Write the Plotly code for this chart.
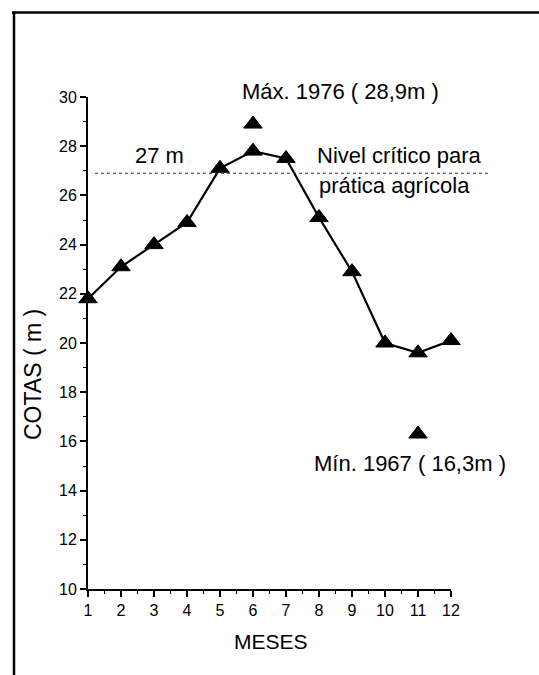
import plotly.graph_objects as go

months = [1, 2, 3, 4, 5, 6, 7, 8, 9, 10, 11, 12]
cotas = [21.8, 23.1, 24.0, 24.9, 27.1, 27.8, 27.5, 25.1, 22.9, 20.0, 19.6, 20.1]
extreme_months = [6, 11]
extreme_values = [28.9, 16.3]
critical_level = 26.9
x_ticks = months
y_ticks = [10, 12, 14, 16, 18, 20, 22, 24, 26, 28, 30]

FONT = "Liberation Sans, Arial, sans-serif"

# pixel -> paper helpers (plot area: x 88..451, y 97..589)
L, R, T, B = 88, 451, 97, 589
def px(x):
    return (x - L) / (R - L)
def py(y):
    return (B - y) / (B - T)

fig = go.Figure()
fig.add_trace(go.Scatter(
    x=months, y=cotas, mode="lines+markers",
    line=dict(color="black", width=2.2),
    marker=dict(symbol="triangle-up", size=16, color="black",
                line=dict(color="black", width=1)),
    showlegend=False, cliponaxis=False))
fig.add_trace(go.Scatter(
    x=extreme_months, y=extreme_values, mode="markers",
    marker=dict(symbol="triangle-up", size=16, color="black",
                line=dict(color="black", width=1)),
    showlegend=False, cliponaxis=False))

axis_common = dict(
    showline=True, linecolor="black", linewidth=2, mirror=False,
    ticks="outside", ticklen=6, tickwidth=1.5, tickcolor="black",
    showgrid=False, zeroline=False,
    tickfont=dict(family=FONT, size=16, color="black"),
)
fig.update_xaxes(range=[1, 12], tickvals=x_ticks, **axis_common,
                 minor=dict(ticks="outside", ticklen=3, tickwidth=1,
                            tickcolor="black", dtick=0.5, tick0=0.5))
fig.update_yaxes(range=[10, 30], tickvals=y_ticks, **axis_common,
                 minor=dict(ticks="outside", ticklen=3, tickwidth=1,
                            tickcolor="black", dtick=1, tick0=1))

shapes = [
    # frame (top and left)
    dict(type="line", xref="paper", yref="paper", x0=px(12), x1=px(539),
         y0=py(12.5), y1=py(12.5), line=dict(color="black", width=2.5)),
    dict(type="line", xref="paper", yref="paper", x0=px(14), x1=px(14),
         y0=py(12), y1=py(675), line=dict(color="black", width=2.5)),
    # critical level dotted line
    dict(type="line", xref="paper", yref="paper", x0=px(95), x1=px(488),
         y0=(critical_level - 10) / 20, y1=(critical_level - 10) / 20,
         line=dict(color="#333333", width=1.2, dash="dot")),
]

def ann(text, x, y, xanchor="left", yanchor="middle", size=22, angle=0):
    return dict(text=text, xref="paper", yref="paper", x=x, y=y,
                xanchor=xanchor, yanchor=yanchor, showarrow=False,
                textangle=angle,
                font=dict(family=FONT, size=size, color="black"))

annotations = [
    ann("Máx. 1976 ( 28,9m )", px(240), py(92)),
    ann("27 m", px(133), py(155)),
    ann("Nivel crítico para", px(315), py(155)),
    ann("prática agrícola", px(317), py(185)),
    ann("Mín. 1967 ( 16,3m )", px(312), py(463)),
    ann("MESES", px(271), py(641), xanchor="center", size=21),
    ann("COTAS ( m )", px(33), py(375), xanchor="center", angle=-90, size=23),
]

fig.update_layout(
    width=539, height=675,
    margin=dict(l=L, r=539 - R, t=T, b=675 - B, pad=0),
    paper_bgcolor="white", plot_bgcolor="white",
    shapes=shapes, annotations=annotations,
    font=dict(family=FONT, color="black"),
)

fig.write_html("out.html")
